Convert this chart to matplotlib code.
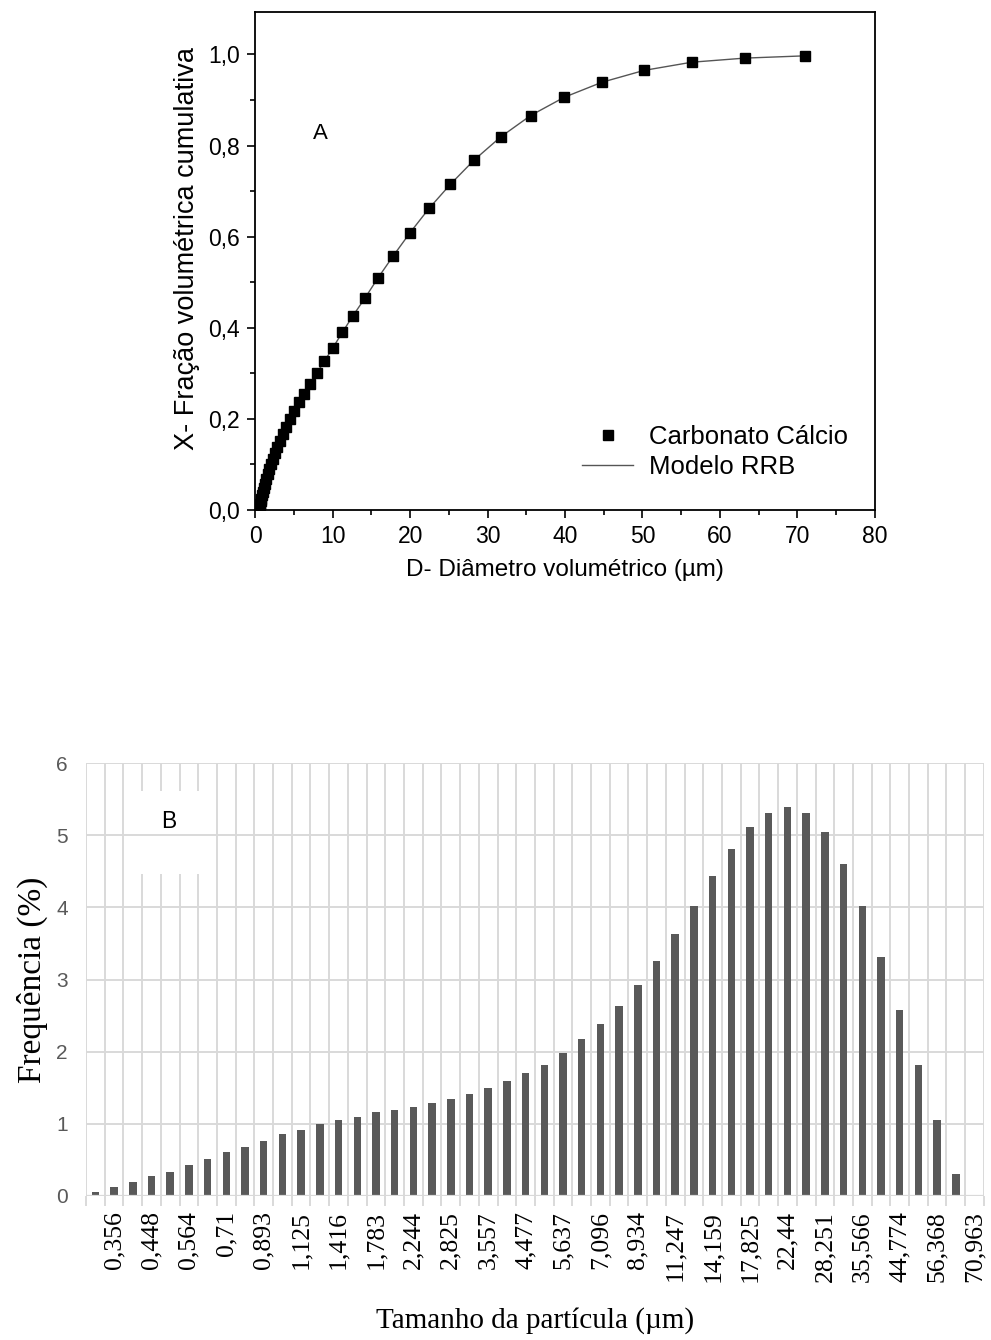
import numpy as np
import matplotlib
matplotlib.use("Agg")
import matplotlib.pyplot as plt
from matplotlib.lines import Line2D
from matplotlib.patches import Rectangle

# A - cumulative volume fraction vs. volumetric diameter (um)
diametro = [0.317, 0.356, 0.399, 0.448, 0.502, 0.564, 0.632, 0.71, 0.796, 0.893,
            1.002, 1.125, 1.262, 1.416, 1.589, 1.783, 2.0, 2.244, 2.52, 2.825,
            3.17, 3.557, 3.99, 4.477, 5.02, 5.637, 6.32, 7.096, 7.96, 8.934,
            10.02, 11.247, 12.6, 14.159, 15.87, 17.825, 20.0, 22.44, 25.2, 28.251,
            31.7, 35.566, 39.9, 44.774, 50.2, 56.368, 63.2, 70.963]
fracao = [0.0, 0.001, 0.002, 0.004, 0.006, 0.010, 0.014, 0.019, 0.025, 0.032,
          0.040, 0.048, 0.057, 0.067, 0.079, 0.089, 0.100, 0.112, 0.125, 0.138,
          0.151, 0.166, 0.183, 0.200, 0.217, 0.236, 0.255, 0.277, 0.301, 0.327,
          0.356, 0.390, 0.426, 0.465, 0.510, 0.558, 0.609, 0.662, 0.715, 0.768,
          0.819, 0.866, 0.906, 0.939, 0.965, 0.983, 0.992, 0.997]

# B - particle size distribution (%), one bar per size class
frequencia = [0.06, 0.12, 0.19, 0.27, 0.33, 0.43, 0.51, 0.61, 0.68, 0.76,
              0.86, 0.92, 1.00, 1.05, 1.10, 1.16, 1.19, 1.23, 1.29, 1.35,
              1.41, 1.49, 1.59, 1.70, 1.82, 1.98, 2.17, 2.38, 2.64, 2.93,
              3.26, 3.63, 4.02, 4.43, 4.81, 5.12, 5.31, 5.39, 5.31, 5.04,
              4.61, 4.02, 3.32, 2.58, 1.82, 1.06, 0.31]
n_classes = 48
rotulos = ["0,356", "0,448", "0,564", "0,71", "0,893", "1,125", "1,416", "1,783",
           "2,244", "2,825", "3,557", "4,477", "5,637", "7,096", "8,934", "11,247",
           "14,159", "17,825", "22,44", "28,251", "35,566", "44,774", "56,368", "70,963"]

sans = ["Liberation Sans", "DejaVu Sans"]
serif = ["Liberation Serif", "DejaVu Serif"]

fig = plt.figure(figsize=(9.91, 13.4), dpi=100)

# ---------------- A ----------------
ax1 = fig.add_axes([0.2576, 0.6194, 0.625, 0.3719])
ax1.plot(diametro, fracao, color="#555555", lw=1.0, zorder=2)
ax1.plot(diametro, fracao, ls="none", marker="s", ms=7.4, color="black", zorder=3)
ax1.set_xlim(0, 80)
ax1.set_ylim(0, 1.094)
ax1.set_xticks(np.arange(0, 81, 10))
ax1.set_xticks(np.arange(5, 80, 10), minor=True)
ax1.set_yticks(np.arange(0, 1.01, 0.2))
ax1.set_yticks(np.arange(0.1, 1.0, 0.2), minor=True)
ax1.set_yticklabels([("%.1f" % v).replace(".", ",") for v in np.arange(0, 1.01, 0.2)])
ax1.tick_params(which="major", direction="out", length=6, width=1.2, labelsize=16.5, pad=5)
ax1.tick_params(which="minor", direction="out", length=3.5, width=1.2)
for lab in ax1.get_xticklabels() + ax1.get_yticklabels():
    lab.set_fontfamily(sans)
for s in ax1.spines.values():
    s.set_linewidth(1.3)
ax1.set_xlabel("D- Diâmetro volumétrico (µm)", fontsize=17.5, family=sans, labelpad=8)
ax1.set_ylabel("X- Fração volumétrica cumulativa", fontsize=19.5, family=sans)
ax1.yaxis.set_label_coords(-0.09, 0.525)
ax1.text(0.093, 0.745, "A", transform=ax1.transAxes, fontsize=16, family=sans)

handles = [Line2D([], [], ls="none", marker="s", ms=7.4, color="black"),
           Line2D([], [], color="#555555", lw=1.0)]
ax1.legend(handles, ["Carbonato Cálcio", "Modelo RRB"], loc="lower left",
           bbox_to_anchor=(0.49, 0.015), frameon=False,
           prop={"family": sans, "size": 18.5}, handlelength=2.0,
           handletextpad=0.6, labelspacing=0.25)

# ---------------- B ----------------
grid_cor = "#d9d9d9"
ax2 = fig.add_axes([0.0868, 0.1075, 0.906, 0.3229])
x = np.arange(len(frequencia))
ax2.bar(x, frequencia, width=0.4, color="#595959", zorder=3)
ax2.set_xlim(-0.5, n_classes - 0.5)
ax2.set_ylim(0, 6)
ax2.set_yticks(range(0, 7))
ax2.yaxis.grid(True, color=grid_cor, lw=1.4, zorder=0)
for b in np.arange(-0.5, n_classes, 1.0):
    ax2.axvline(b, color=grid_cor, lw=1.4, zorder=0)
for s in ax2.spines.values():
    s.set_visible(False)
ax2.axhline(0, color=grid_cor, lw=1.6, zorder=4)

# labels on every second size class
ax2.set_xticks(np.arange(1, n_classes, 2))
ax2.set_xticklabels(rotulos, rotation=90, family=serif, fontsize=18.5)
ax2.set_xticks(np.arange(-0.5, n_classes, 1.0), minor=True)
ax2.tick_params(axis="x", which="major", length=0, pad=11)
ax2.tick_params(axis="x", which="minor", length=7, width=1.4, color=grid_cor)
ax2.tick_params(axis="y", length=0, labelsize=15, labelcolor="#595959", pad=13)
for lab in ax2.get_yticklabels():
    lab.set_fontfamily(sans)

ax2.set_xlabel("Tamanho da partícula (µm)", family=serif, fontsize=21, labelpad=18)
ax2.set_ylabel("Frequência (%)", family=serif, fontsize=24, labelpad=6)

# white patch behind the "B" tag
ax2.add_patch(Rectangle((1.75, 4.47), 4.2, 1.15, facecolor="white", edgecolor="none", zorder=1))
ax2.text(3.9, 5.19, "B", fontsize=16.5, family=sans, ha="center", va="center", zorder=5)

fig.savefig("out.png", dpi=100)
